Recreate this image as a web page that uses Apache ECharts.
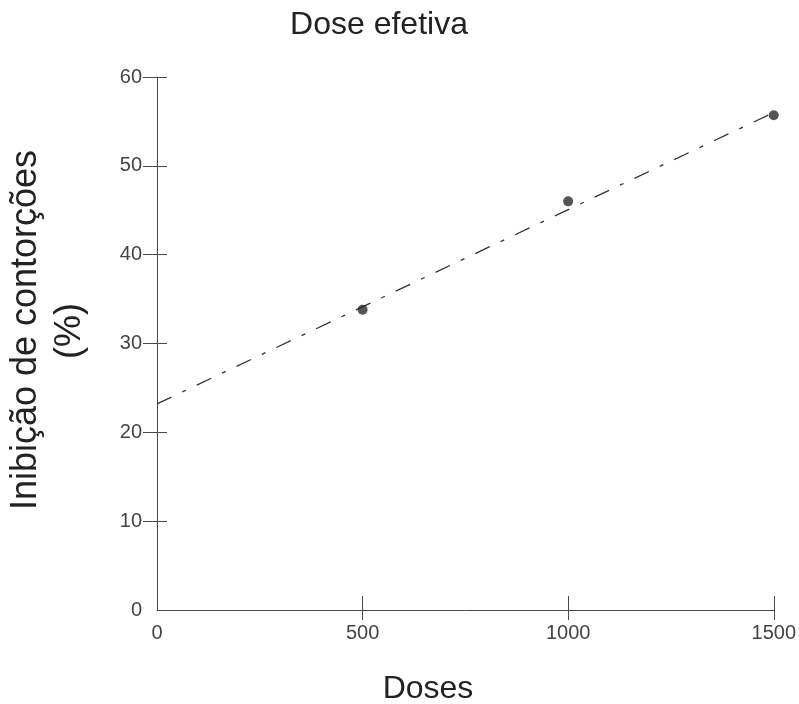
<!DOCTYPE html>
<html>
<head>
<meta charset="utf-8">
<script src="https://cdn.jsdelivr.net/npm/echarts@6/dist/echarts.min.js"></script>
<style>
html,body{margin:0;padding:0;background:#fff;}
#chart{width:799px;height:704px;}
</style>
</head>
<body>
<div id="chart"></div>
<script>
// Data
const doses = [500, 1000, 1500];
const inhibition = [33.8, 46.0, 55.7];
const trendDoses = [0, 1500];
const trendValues = [23.2, 56.0];
const xTicks = [0, 500, 1000, 1500];
const yTicks = [0, 10, 20, 30, 40, 50, 60];
const titleText = 'Dose efetiva';
const xName = 'Doses';
const yName1 = 'Inibição de contorções';
const yName2 = '(%)';

const FONT = '"Liberation Sans", Arial, sans-serif';
const AXIS_COLOR = '#4a4a4a';
const LABEL_COLOR = '#444';

const chart = echarts.init(document.getElementById('chart'), null, {renderer: 'canvas'});

const pointData = doses.map((d, i) => [d, inhibition[i]]);
const trendData = trendDoses.map((d, i) => [d, trendValues[i]]);

const xBase = {
  type: 'value', min: 0, max: 1500, interval: 500, gridIndex: 0,
  splitLine: {show: false}
};
const yBase = {
  type: 'value', min: 0, max: 60, interval: 10, gridIndex: 0,
  splitLine: {show: false}
};

const option = {
  backgroundColor: '#fff',
  animation: false,
  grid: {left: 157, right: 25, top: 77, bottom: 94, containLabel: false},
  xAxis: [
    Object.assign({}, xBase, {
      position: 'bottom',
      axisLine: {show: true, lineStyle: {color: AXIS_COLOR, width: 1}},
      axisTick: {show: true, inside: false, length: 10, customValues: xTicks.slice(1), lineStyle: {color: AXIS_COLOR}},
      axisLabel: {show: true, margin: 13, customValues: xTicks, color: LABEL_COLOR, fontFamily: FONT, fontSize: 20,
        formatter: v => String(v)}
    }),
    Object.assign({}, xBase, {
      position: 'bottom',
      axisLine: {show: false},
      axisTick: {show: true, inside: true, length: 14, customValues: xTicks.slice(1), lineStyle: {color: AXIS_COLOR}},
      axisLabel: {show: false}
    })
  ],
  yAxis: [
    Object.assign({}, yBase, {
      position: 'left',
      axisLine: {show: true, lineStyle: {color: AXIS_COLOR, width: 1}},
      axisTick: {show: true, inside: false, length: 14, customValues: yTicks.slice(1), lineStyle: {color: AXIS_COLOR}},
      axisLabel: {show: true, margin: 15, customValues: yTicks, color: LABEL_COLOR, fontFamily: FONT, fontSize: 20,
        formatter: v => String(v)}
    }),
    Object.assign({}, yBase, {
      position: 'left', offset: 0,
      axisLine: {show: false},
      axisTick: {show: true, inside: true, length: 10, customValues: yTicks.slice(1), lineStyle: {color: AXIS_COLOR}},
      axisLabel: {show: false}
    })
  ],
  graphic: [
    {type: 'text', x: 379, y: 25, style: {text: titleText, fill: '#222', font: '32px ' + FONT, textAlign: 'center', textVerticalAlign: 'middle'}},
    {type: 'text', x: 428, y: 689, style: {text: xName, fill: '#222', font: '32px ' + FONT, textAlign: 'center', textVerticalAlign: 'middle'}},
    {type: 'text', x: 26, y: 330, rotation: Math.PI / 2, style: {text: yName1, fill: '#222', font: '36px ' + FONT, textAlign: 'center', textVerticalAlign: 'middle'}},
    {type: 'text', x: 70, y: 331, rotation: Math.PI / 2, style: {text: yName2, fill: '#222', font: '36px ' + FONT, textAlign: 'center', textVerticalAlign: 'middle'}}
  ],
  series: [
    {
      type: 'line', name: 'trend', xAxisIndex: 0, yAxisIndex: 0,
      data: trendData, showSymbol: false, symbol: 'none',
      lineStyle: {color: '#333', width: 1.3, type: [16, 12, 4, 12]},
      z: 2, silent: true
    },
    {
      type: 'scatter', name: 'dados', xAxisIndex: 0, yAxisIndex: 0,
      data: pointData, symbol: 'circle', symbolSize: 10,
      itemStyle: {color: '#2a2a2a'}, z: 3
    }
  ]
};
chart.setOption(option);
</script>
</body>
</html>
